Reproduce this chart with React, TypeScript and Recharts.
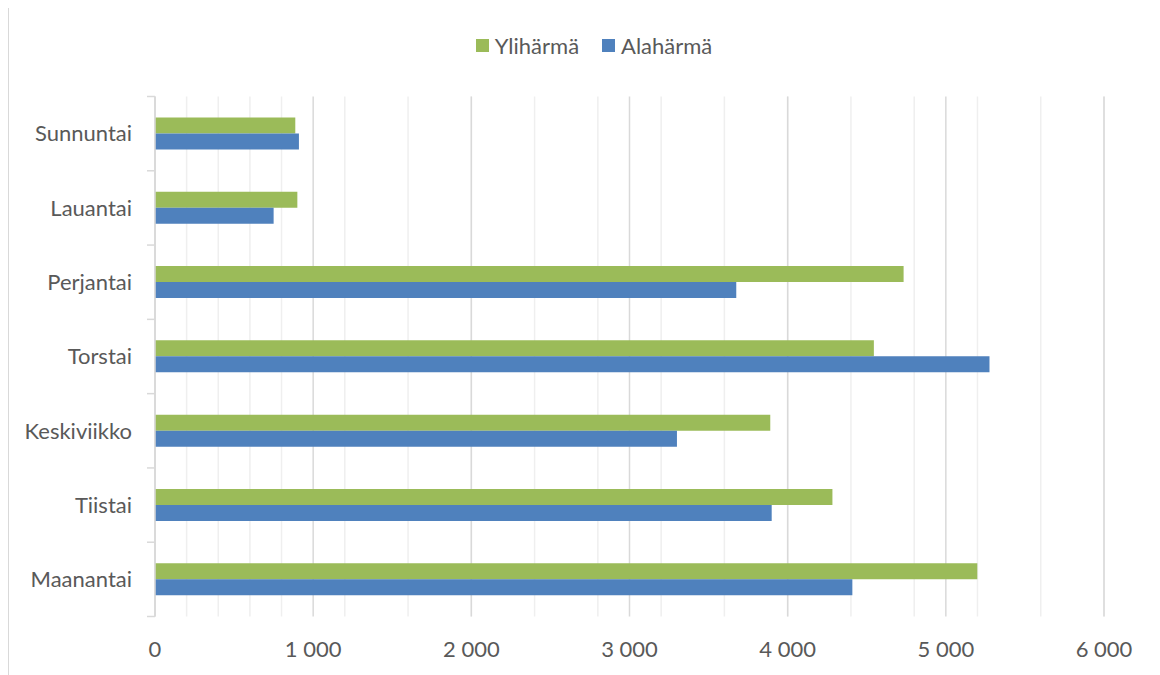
import React from "react";
import {
  BarChart,
  Bar,
  XAxis,
  YAxis,
  CartesianGrid,
  Legend,
} from "recharts";

const days = [
  "Sunnuntai",
  "Lauantai",
  "Perjantai",
  "Torstai",
  "Keskiviikko",
  "Tiistai",
  "Maanantai",
];
const yliharma = [887, 900, 4733, 4545, 3890, 4283, 5199];
const alaharma = [910, 750, 3675, 5276, 3300, 3899, 4409];

const majorTicks = [0, 1000, 2000, 3000, 4000, 5000, 6000];
const minorTicks = [
  0, 200, 400, 600, 800, 1000, 1200, 1400, 1600, 1800, 2000, 2200, 2400, 2600,
  2800, 3000, 3200, 3400, 3600, 3800, 4000, 4200, 4400, 4600, 4800, 5000, 5200,
  5400, 5600, 5800, 6000,
];

const data = days.map((day, i) => ({
  day,
  ylihärmä: yliharma[i],
  alahärmä: alaharma[i],
}));

const FONT = "Lato, 'Open Sans', sans-serif";
const TEXT = "#595959";
const GREEN = "#9BBB59";
const BLUE = "#4F81BD";
const AXIS = "#d9d9d9";

const series = [
  { key: "ylihärmä", name: "Ylihärmä", color: GREEN },
  { key: "alahärmä", name: "Alahärmä", color: BLUE },
];

const TICK_SIZE = 8;
const TICK_MARGIN = 15;

// "1 000" style thousands separator
const fmt = (v: number) => String(v).replace(/\B(?=(\d{3})+(?!\d))/g, " ");

// category label at the band centre, tick marks on the band edges
const DayTick = (props: any) => {
  const { x, y, payload, height, index } = props;
  const half = height / days.length / 2;
  const lx1 = x + TICK_MARGIN;
  const lx2 = lx1 + TICK_SIZE;
  return (
    <g>
      <line x1={lx1} x2={lx2} y1={y - half} y2={y - half} stroke={AXIS} strokeWidth={1.5} />
      {index === days.length - 1 && (
        <line x1={lx1} x2={lx2} y1={y + half} y2={y + half} stroke={AXIS} strokeWidth={1.5} />
      )}
      <text
        x={x}
        y={y}
        dy="0.355em"
        textAnchor="end"
        fill={TEXT}
        fontSize={22}
        fontFamily={FONT}
      >
        {payload.value}
      </text>
    </g>
  );
};

// legend keeps the series order
const renderLegend = () => (
  <div
    style={{
      display: "flex",
      justifyContent: "center",
      alignItems: "center",
      height: 30,
      gap: 23,
      fontFamily: FONT,
      fontSize: 22,
      color: TEXT,
    }}
  >
    {series.map((s) => (
      <span key={s.key} style={{ display: "flex", alignItems: "center" }}>
        <span
          style={{
            width: 13,
            height: 13,
            background: s.color,
            marginRight: 6,
            display: "inline-block",
          }}
        />
        {s.name}
      </span>
    ))}
  </div>
);

export default function App() {
  return (
    <div
      style={{
        width: 1152,
        height: 680,
        marginTop: -2,
        border: `1px solid ${AXIS}`,
        boxSizing: "border-box",
        background: "#fff",
      }}
    >
      <BarChart
        width={1150}
        height={668}
        data={data}
        layout="vertical"
        barSize={16}
        barGap={0}
        margin={{ top: 59.5, right: 55, left: 0, bottom: 18.5 }}
      >
        <CartesianGrid
          horizontal={false}
          verticalValues={minorTicks}
          stroke="#efefef"
          strokeWidth={1.5}
        />
        <CartesianGrid
          horizontal={false}
          verticalValues={majorTicks}
          stroke={AXIS}
          strokeWidth={1.5}
        />
        <XAxis
          type="number"
          domain={[0, 6000]}
          ticks={majorTicks}
          tickFormatter={fmt}
          axisLine={false}
          tickLine={false}
          tickSize={6}
          tickMargin={19}
          height={40}
          tick={{ fill: TEXT, fontSize: 22, fontFamily: FONT }}
        />
        <YAxis
          type="category"
          dataKey="day"
          width={146}
          axisLine={{ stroke: AXIS, strokeWidth: 1.5 }}
          tickLine={false}
          tickSize={TICK_SIZE}
          tickMargin={TICK_MARGIN}
          tick={<DayTick />}
          interval={0}
        />
        <Legend
          verticalAlign="top"
          content={renderLegend}
          wrapperStyle={{ top: 23, left: 0, width: 1150, paddingLeft: 10 }}
        />
        {series.map((s) => (
          <Bar
            key={s.key}
            dataKey={s.key}
            name={s.name}
            fill={s.color}
            isAnimationActive={false}
          />
        ))}
      </BarChart>
    </div>
  );
}
